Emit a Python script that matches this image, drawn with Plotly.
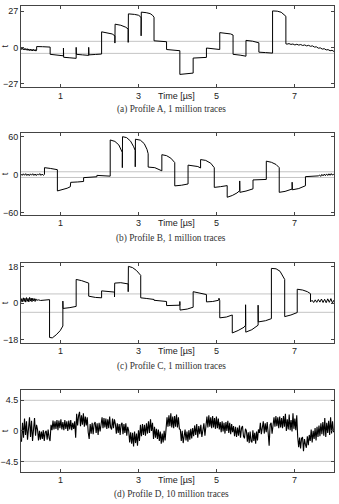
import numpy as np
import plotly.graph_objects as go

# ---------------- data ----------------
THRESHOLD = 4.5
X_TICKS = [1, 3, 5, 7]
X_RANGE = [0, 8]

A_T = [0.00, 0.02, 0.04, 0.06, 0.08, 0.10, 0.12, 0.14, 0.16, 0.18, 0.20, 0.22, 0.24, 0.26, 0.28, 0.30, 0.32, 0.34, 0.36, 0.38, 0.40,
       0.40, 0.55, 0.745,
       0.745, 0.9, 1.085,
       1.085, 1.09, 1.25, 1.41,
       1.41, 1.415, 1.57, 1.73,
       1.73, 1.735, 1.9, 2.06,
       2.06, 2.2, 2.33, 2.40,
       2.40, 2.405, 2.55, 2.68, 2.74,
       2.74, 2.745, 2.9, 3.0, 3.05, 3.07,
       3.07, 3.075, 3.2, 3.3, 3.36, 3.40,
       3.40, 3.56, 3.72,
       3.72, 3.9, 4.06,
       4.06, 4.2, 4.40,
       4.40, 4.57, 4.74,
       4.74, 4.9, 5.08,
       5.08, 5.25, 5.36, 5.42,
       5.42, 5.6, 5.75,
       5.75, 5.92, 6.08,
       6.08, 6.25, 6.43,
       6.43, 6.55, 6.65, 6.72, 6.77,
       6.77, 6.80, 6.85, 6.90, 6.95, 7.00, 7.05, 7.10, 7.15, 7.20, 7.25, 7.30, 7.35, 7.40, 7.45, 7.50,
       7.55, 7.60, 7.65, 7.70, 7.75, 7.80, 7.85, 7.90, 7.95, 8.00]
A_V = [-0.4, -1.6, -0.7, -1.8, -0.8, -2.0, -0.9, -2.1, -1.0, -2.3, -1.2, -2.4, -1.3, -2.6, -1.4, -2.7, -1.5, -2.6, -1.6, -2.8, -2.0,
       0.6, 0.5, 0.2,
       -5.2, -5.6, -6.3,
       -0.5, -7.4, -7.8, -8.2,
       0.0, -5.2, -5.6, -6.0,
       0.0, -5.6, -5.3, -5.0,
       11.6, 11.0, 10.0, 8.6,
       3.2, 17.3, 16.5, 15.0, 13.6,
       3.7, 25.0, 24.6, 24.0, 23.0, 22.0,
       8.6, 26.3, 25.9, 25.2, 24.0, 22.5,
       4.9, 4.6, 4.2,
       -1.6, -2.0, -2.5,
       -20.2, -20.0, -19.2,
       -8.0, -7.8, -7.5,
       -0.5, -1.0, -1.6,
       11.0, 10.6, 10.0, 9.2,
       -5.2, -5.8, -6.6,
       5.2, 4.6, 3.4,
       -3.6, -3.9, -4.3,
       27.2, 27.0, 26.2, 24.8, 23.2,
       2.6, 2.4, 2.8, 2.2, 2.5, 1.8, 2.3, 1.7, 2.1, 1.4, 1.8, 1.1, 1.5, 0.8, 1.1, 0.2,
       0.4, -0.6, -0.4, -1.3, -1.0, -1.9, -1.7, -2.5, -2.2, -3.1]

B_T = [0.00, 0.03, 0.06, 0.09, 0.12, 0.15, 0.18, 0.21, 0.24, 0.27, 0.30, 0.33, 0.36, 0.39, 0.42, 0.45, 0.48, 0.51, 0.54, 0.57, 0.60,
       0.60, 0.75, 0.93,
       0.93, 1.05, 1.18, 1.26,
       1.26, 1.27, 1.45, 1.60,
       1.60, 1.77, 1.94,
       1.94, 2.1, 2.28,
       2.28, 2.4, 2.5, 2.56, 2.59,
       2.59, 2.595, 2.7, 2.8, 2.88, 2.92,
       2.92, 2.925, 3.05, 3.15, 3.22, 3.25,
       3.25, 3.42, 3.60,
       3.60, 3.72, 3.83, 3.93,
       3.93, 4.1, 4.27,
       4.27, 4.4, 4.52, 4.59,
       4.59, 4.72, 4.85, 4.94,
       4.94, 5.1, 5.27,
       5.27, 5.4, 5.52, 5.59,
       5.59, 5.595, 5.75, 5.93,
       5.93, 6.1, 6.27,
       6.27, 6.4, 6.52, 6.60,
       6.60, 6.75, 6.93,
       6.93, 6.935, 7.1, 7.27,
       7.27, 7.45, 7.60,
       7.63, 7.66, 7.69, 7.72, 7.75, 7.78, 7.81, 7.84, 7.87, 7.90, 7.93, 7.96, 8.00]
B_V = [0.8, -1.2, 1.3, -1.0, 1.5, -1.4, 0.9, -1.6, 1.2, -0.9, 1.4, -1.3, 1.0, -1.5, 1.1, -0.8, 1.6, -1.2, 0.9, -1.1, 0.3,
       11.0, 9.8, 7.8,
       -25.8, -24.0, -21.5, -19.2,
       -13.0, -12.2, -11.6, -10.8,
       -4.8, -4.2, -3.4,
       -1.2, -1.8, -2.4,
       54.8, 52.5, 47.0, 40.5, 35.0,
       11.0, 60.0, 58.5, 53.0, 44.0, 38.0,
       12.4, 56.0, 54.5, 49.0, 40.0, 33.0,
       11.9, 11.0, 6.0,
       31.5, 30.0, 26.0, 19.0,
       -17.8, -16.8, -14.8,
       15.0, 14.2, 12.8, 10.5,
       23.8, 22.5, 18.0, 11.0,
       -20.2, -19.0, -17.4,
       -35.8, -33.0, -29.0, -25.3,
       -10.0, -28.0, -26.0, -22.5,
       -8.4, -8.2, -7.6,
       21.3, 19.5, 16.0, 11.0,
       -28.0, -26.5, -22.8,
       -12.0, -24.0, -22.0, -17.6,
       -3.2, -2.6, -2.0,
       -0.6, -2.8, 0.4, -2.0, 0.8, -1.7, 1.1, -1.4, 1.3, -1.1, 1.6, -0.7, 0.8]

C_T = [0.00, 0.02, 0.04, 0.06, 0.08, 0.10, 0.12, 0.14, 0.16, 0.18, 0.20, 0.22, 0.24, 0.26, 0.28, 0.30, 0.32, 0.34, 0.36, 0.38, 0.40,
       0.45, 0.5, 0.6, 0.7, 0.73,
       0.73, 0.8, 0.9, 1.0, 1.07,
       1.07, 1.075, 1.25, 1.41,
       1.41, 1.55, 1.73,
       1.73, 1.9, 2.06,
       2.06, 2.22, 2.39,
       2.39, 2.395, 2.55, 2.74,
       2.74, 2.745, 2.85, 2.95, 3.06,
       3.06, 3.2, 3.40,
       3.40, 3.55, 3.72,
       3.72, 3.9, 4.06,
       4.06, 4.065, 4.25, 4.40,
       4.40, 4.57, 4.74,
       4.74, 4.9, 5.05, 5.06, 5.08,
       5.08, 5.25, 5.40,
       5.40, 5.55, 5.70, 5.74,
       5.74, 5.745, 5.9, 6.02, 6.06,
       6.06, 6.065, 6.25, 6.40,
       6.40, 6.52, 6.62, 6.74,
       6.74, 6.9, 7.06,
       7.06, 7.2, 7.32, 7.40,
       7.40, 7.44, 7.48, 7.52, 7.56, 7.60, 7.64, 7.68, 7.72, 7.76, 7.80, 7.84, 7.88, 7.92, 7.96, 8.00]
C_V = [0.4, 2.2, 0.7, 2.6, 0.8, 2.4, 0.5, 2.7, 0.9, 2.3, 0.6, 2.8, 1.0, 2.5, 0.7, 2.4, 1.1, 2.2, 0.8, 2.1, 1.4,
       1.6, 1.3, 1.5, 1.4, 1.7,
       -16.8, -17.0, -15.5, -13.5, -11.2,
       1.0, -2.6, -2.2, -1.6,
       11.6, 11.0, 9.8,
       3.4, 2.8, 2.6,
       6.0, 5.6, 5.4,
       3.0, 9.8, 10.0, 9.4,
       5.6, 18.0, 17.4, 16.0, 13.6,
       2.6, 2.3, 1.8,
       1.4, 1.2, 0.8,
       -1.2, -1.1, -1.0,
       0.8, -3.4, -2.9, -2.0,
       5.6, 5.0, 4.2,
       0.6, 0.8, 1.4, 2.4, 1.2,
       -7.2, -6.8, -5.8,
       -14.6, -13.4, -11.8, -10.8,
       -0.8, -14.2, -13.0, -11.5, -10.8,
       -1.0, -9.2, -8.6, -7.6,
       17.0, 16.8, 15.6, 11.6,
       -6.6, -5.8, -4.6,
       6.8, 6.4, 5.6, 4.6,
       0.6, 1.4, 0.3, 1.6, 0.4, 1.8, 0.5, 2.0, 0.3, 1.9, 0.2, 2.1, 0.4, 2.2, 0.1, 1.5]

D_SEG_EDGES = [0, 0.41, 0.73, 1.41, 1.73, 2.06, 2.40, 2.74, 3.04, 3.40, 3.72, 4.06, 4.40, 4.74,
               5.08, 5.42, 5.75, 6.08, 6.43, 6.77, 7.06, 7.38, 8.0]
D_SEG_VALUES = [
    [-1.6, 1.2, -1.0, 1.8, -0.6, 1.4, -1.3, 1.0, 2.0, -0.9, 1.5, -1.5, 1.1, 1.9, -0.7, 0.9],
    [0.2, -1.4, 0.0, -1.3, -0.1, -1.2, 0.1, -1.5, -0.2, 0.0, -1.3, 0.2, -1.0],
    [-1.5, 0.9, 0.1, 1.5, 0.2, 1.4, 0.3, 1.6, 0.1, 1.5, 0.4, 1.7, 0.2, 1.3, 0.1, 1.6, 0.3, 1.4, 0.0, 1.5, 0.2, 1.6, 0.1, 1.2, 0.3, 1.4, -1.0],
    [2.5, 0.8, 2.2, 2.8, 0.7, 2.3, 0.9, 2.6, 0.6, 2.1, 0.8, 2.0, -0.2],
    [-1.2, 1.0, -0.4, 1.2, -0.5, 1.0, 1.3, -0.3, 1.1, -0.6, 1.2, -0.1, 1.4],
    [2.0, 0.4, 1.9, 0.5, 1.8, 0.3, 1.7, 0.4, 2.1, 0.5, 0.2, 1.8, 0.4, 1.7],
    [1.0, -0.4, 1.1, -0.3, 1.0, -0.6, 0.9, 1.2, -0.5, 1.0, -0.3, 1.1, -0.7, 0.6],
    [0.0, -1.7, -0.2, -1.9, -0.3, -2.3, -0.1, -1.8, -0.4, -2.2, 0.1, -1.5],
    [0.9, -0.8, 1.0, -0.6, 0.9, -0.7, 1.1, -0.4, 1.4, -0.3, 1.7, 0.0, 1.2, -1.2],
    [0.6, -1.0, 0.3, -1.2, 0.2, -1.5, -0.1, -1.9, -0.4, -1.7, 0.0, -1.4, 0.2],
    [2.0, 0.6, 2.3, 0.7, 2.6, 0.5, 2.1, 0.4, 2.2, 0.6, 2.4, 0.5, 2.0, 0.3],
    [0.2, -1.5, 0.0, -1.8, -0.2, 0.2, -1.4, -0.1, -1.6, 0.1, -1.3, 0.3, -1.1, 0.4],
    [-0.8, 0.8, -0.6, 1.0, -1.0, 0.7, -0.5, 0.9, -0.9, 0.6, 1.1, -0.7, 0.8],
    [2.1, 0.5, 2.3, 0.6, 2.0, 0.4, 2.2, 0.5, 1.9, 0.3, 2.1, 0.4, 1.8, 0.2],
    [1.3, -0.2, 1.4, -0.1, 1.2, -0.4, 1.3, 0.0, 1.5, -0.3, 1.2, -0.5, 1.0, -0.2],
    [0.7, -0.8, 0.6, -0.9, 0.5, -0.7, 0.8, -1.0, 0.4, 0.7, -0.8, -1.1, 0.3],
    [0.0, -1.6, -0.2, -1.8, -0.1, -1.5, -1.7, 0.1, -1.5, -0.3, -1.9, -0.1, -1.4, 0.2],
    [-0.3, 1.2, -0.5, 1.0, 1.4, -0.4, 1.1, -0.2, 1.3, -0.3, -2.2, 0.9, 1.2, -0.4],
    [0.5, 2.0, 0.6, 2.2, 0.7, 2.0, 0.4, 2.1, 0.5, 1.9, 0.4, 2.2, 0.6, 2.5],
    [0.0, 1.7, 0.2, 2.4, 0.1, 1.6, -0.1, 2.6, 0.3, 1.8, 0.1, 2.3],
    [-0.9, -2.4, -1.0, -2.6, -1.1, -0.9, -3.0, -1.2, -2.0, -2.5, -0.8, -2.1, -0.6],
    [-1.5, 0.2, -1.7, 0.0, -1.2, 0.4, -1.4, 0.6, -0.9, 0.8, -0.8, 1.1, -0.5, 1.3, -0.7, 1.9, -0.9, 1.2, -0.3, 1.5, -0.6, 2.0, -0.4, 1.4, -0.2],
]

PANELS = [
    dict(t=A_T, v=A_V, ticks=[-27, 0, 27], rng=[-29.7, 30.9], caption="(a) Profile A, 1 million traces"),
    dict(t=B_T, v=B_V, ticks=[-60, 0, 60], rng=[-64.1, 65.2], caption="(b) Profile B, 1 million traces"),
    dict(t=C_T, v=C_V, ticks=[-18, 0, 18], rng=[-19.65, 19.6], caption="(c) Profile C, 1 million traces"),
    dict(t=None, v=None, ticks=[-4.5, 0, 4.5], rng=[-6.06, 5.96], caption="(d) Profile D, 10 million traces"),
]

# build D sample times from segment edges
d_t, d_v = [], []
for i, vals in enumerate(D_SEG_VALUES):
    s, e = D_SEG_EDGES[i], D_SEG_EDGES[i + 1]
    n = len(vals)
    for k, val in enumerate(vals):
        d_t.append(s + (e - s) * (k + 0.5) / n)
        d_v.append(val)
PANELS[3]["t"] = d_t
PANELS[3]["v"] = d_v

# ---------------- layout ----------------
W, H = 339, 504
PLOT_L, PLOT_R = 21, 334
PANEL_PX = [(4, 86), (132.7, 215.3), (263.7, 344.7), (392.3, 474.7)]
TICKLBL_Y = [95, 223.7, 352, 483]
CAPTION_Y = [109, 239, 368, 497.3]

SANS = "Liberation Sans, Arial, sans-serif"
SERIF = "Liberation Serif, Times New Roman, serif"
FRAME = "#444444"

fig = go.Figure()
layout = dict(width=W, height=H, margin=dict(l=0, r=0, t=0, b=0),
              paper_bgcolor="white", plot_bgcolor="white", showlegend=False)
annotations = []
shapes = []
xd = [PLOT_L / W, PLOT_R / W]

for i, p in enumerate(PANELS):
    n = "" if i == 0 else str(i + 1)
    top, bot = PANEL_PX[i]
    yd = [1 - bot / H, 1 - top / H]
    fig.add_trace(go.Scatter(x=p["t"], y=p["v"], mode="lines",
                             line=dict(color="black", width=1.1 if i == 3 else 1),
                             xaxis="x" + n, yaxis="y" + n, hoverinfo="skip"))
    layout["xaxis" + n] = dict(domain=xd, range=X_RANGE, anchor="y" + n,
                               tickvals=X_TICKS, ticktext=[str(v) for v in X_TICKS],
                               ticks="inside", ticklen=3, tickcolor=FRAME,
                               showline=True, linecolor=FRAME, linewidth=1, mirror="ticks",
                               showgrid=False, zeroline=False, showticklabels=False)
    layout["yaxis" + n] = dict(domain=yd, range=p["rng"], anchor="x" + n,
                               tickvals=p["ticks"], ticktext=[("−" + str(abs(v)) if v < 0 else str(v)) for v in p["ticks"]],
                               ticks="inside", ticklen=3, tickcolor=FRAME,
                               showline=True, linecolor=FRAME, linewidth=1, mirror="ticks",
                               showgrid=False, zeroline=False,
                               tickfont=dict(family=SANS, size=9, color="#222"))
    for s in (THRESHOLD, -THRESHOLD):
        shapes.append(dict(type="line", xref="x" + n + " domain" if n else "x domain", x0=0, x1=1,
                           yref="y" + n, y0=s, y1=s, line=dict(color="#c4c4c4", width=1), layer="below"))
    for tv in X_TICKS:
        annotations.append(dict(x=tv, xref="x" + n, y=1 - TICKLBL_Y[i] / H, yref="paper",
                                text=str(tv), showarrow=False, xanchor="center", yanchor="middle",
                                font=dict(family=SANS, size=9, color="#222")))
    annotations.append(dict(x=176 / W, xref="paper", y=1 - TICKLBL_Y[i] / H, yref="paper",
                            text="Time [µs]", showarrow=False, xanchor="center", yanchor="middle",
                            font=dict(family=SANS, size=9, color="#222")))
    annotations.append(dict(x=5 / W, xref="paper", y=1 - (top + bot) / 2 / H, yref="paper",
                            text="t", showarrow=False, textangle=-90, xanchor="center", yanchor="middle",
                            font=dict(family=SANS, size=9, color="#222")))
    annotations.append(dict(x=171 / W, xref="paper", y=1 - CAPTION_Y[i] / H, yref="paper",
                            text=p["caption"], showarrow=False, xanchor="center", yanchor="middle",
                            font=dict(family=SERIF, size=9.3, color="#333")))

layout["annotations"] = annotations
layout["shapes"] = shapes
fig.update_layout(**layout)
fig.write_html("out.html")
